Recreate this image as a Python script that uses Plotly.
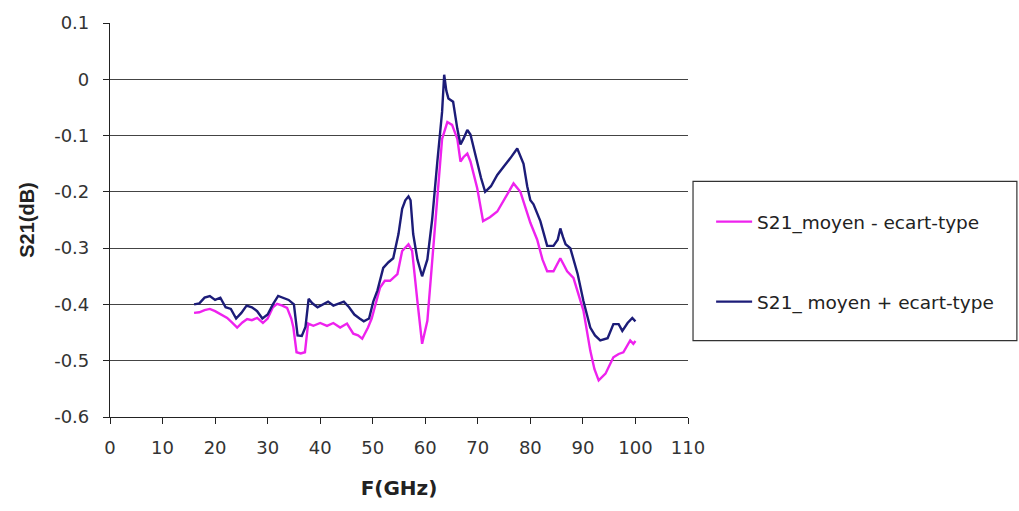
import plotly.graph_objects as go

# S21 transmission: mean minus / plus one standard deviation
freq_minus = [16, 17, 18, 19, 20, 21, 22.3, 23.2, 24.2, 25.2, 26.1, 27, 28, 29.1, 30, 31, 31.8, 32.8,
              33.7, 34.5, 34.9, 35.5, 36.3, 37.1, 37.7, 38.7, 40, 41.3, 42.5, 43.8, 45.1, 46.3, 47.2,
              48, 49.1, 49.8, 50.9, 51.4, 52.3, 53.3, 54.7, 55.6, 56.8, 57.5, 58.5, 59.4, 60.4, 61.3,
              62.3, 63.2, 64.2, 65.1, 66.1, 66.7, 67.3, 68, 68.6, 69.3, 69.9, 71, 72.3, 73.7, 75.6,
              76.8, 78.1, 79, 80, 81.3, 82.3, 83.2, 84.4, 85.7, 87, 88.2, 89.2, 90.1, 91.4, 92.2, 93,
              94.3, 95.8, 96.8, 97.7, 98.5, 99, 99.6, 100]
s21_minus = [-0.415, -0.414, -0.410, -0.408, -0.412, -0.417, -0.424, -0.432, -0.441, -0.432, -0.426,
             -0.428, -0.424, -0.433, -0.425, -0.405, -0.399, -0.402, -0.406, -0.425, -0.441, -0.485,
             -0.487, -0.485, -0.434, -0.438, -0.433, -0.438, -0.433, -0.441, -0.434, -0.452, -0.455,
             -0.461, -0.441, -0.425, -0.385, -0.370, -0.358, -0.358, -0.346, -0.305, -0.293, -0.305,
             -0.394, -0.470, -0.429, -0.323, -0.205, -0.106, -0.076, -0.081, -0.106, -0.146, -0.138,
             -0.132, -0.146, -0.170, -0.194, -0.252, -0.245, -0.235, -0.205, -0.185, -0.200, -0.228,
             -0.255, -0.285, -0.320, -0.341, -0.341, -0.318, -0.341, -0.353, -0.385, -0.411, -0.482,
             -0.515, -0.535, -0.523, -0.494, -0.488, -0.485, -0.472, -0.464, -0.470, -0.465]

freq_plus = [16, 17, 18, 19, 20, 21, 22, 23, 24, 25, 26, 27, 28, 29, 30, 31, 32, 33, 34, 35, 35.7,
             36.5, 37.2, 37.8, 38.5, 39.5, 40.5, 41.5, 42.5, 43.5, 44.5, 45.5, 46.5, 47.5, 48.3, 49.3,
             50.1, 50.9, 52, 53, 53.9, 54.9, 55.6, 56.2, 56.8, 57.2, 57.7, 58.5, 59.4, 60.4, 61.3,
             62.3, 63.2, 63.6, 64.0, 64.4, 65.3, 66.1, 66.7, 67.3, 68, 68.6, 69.3, 69.9, 70.6, 71.4,
             72.5, 73.7, 75, 76.2, 77.5, 78.7, 79.4, 80.0, 80.6, 81.9, 83.2, 84.4, 85.2, 85.7, 86.2,
             86.7, 87.6, 89, 90.1, 91.4, 92.3, 93.3, 94.7, 95.8, 96.8, 97.5, 98.5, 99.4, 100]
s21_plus = [-0.400, -0.398, -0.388, -0.385, -0.392, -0.388, -0.405, -0.408, -0.425, -0.415, -0.402,
            -0.405, -0.412, -0.425, -0.418, -0.400, -0.385, -0.388, -0.392, -0.400, -0.455, -0.456,
            -0.440, -0.390, -0.398, -0.405, -0.400, -0.395, -0.402, -0.398, -0.395, -0.405, -0.418,
            -0.425, -0.430, -0.425, -0.395, -0.375, -0.335, -0.325, -0.318, -0.275, -0.230, -0.215,
            -0.208, -0.215, -0.275, -0.320, -0.350, -0.320, -0.250, -0.146, -0.058, 0.008, -0.020,
            -0.034, -0.040, -0.088, -0.116, -0.105, -0.090, -0.098, -0.125, -0.146, -0.175, -0.200,
            -0.190, -0.170, -0.155, -0.140, -0.123, -0.150, -0.190, -0.215, -0.222, -0.252, -0.296,
            -0.296, -0.285, -0.265, -0.280, -0.293, -0.300, -0.346, -0.394, -0.441, -0.455, -0.464,
            -0.460, -0.435, -0.435, -0.447, -0.433, -0.424, -0.430]

x_ticks = list(range(0, 111, 10))
y_ticks = [0.1, 0, -0.1, -0.2, -0.3, -0.4, -0.5, -0.6]
y_labels = ["0.1", "0", "-0.1", "-0.2", "-0.3", "-0.4", "-0.5", "-0.6"]

WIDE = "DejaVu Sans, Verdana, sans-serif"
NARROW = "Liberation Sans, Arial, sans-serif"

fig = go.Figure()
fig.add_trace(go.Scatter(x=freq_minus, y=s21_minus, mode="lines", name="S21_moyen - ecart-type",
                         line=dict(color="#ee22ee", width=2.4), legendgroup="a"))
fig.add_trace(go.Scatter(x=freq_plus, y=s21_plus, mode="lines", name="S21_ moyen + ecart-type",
                         line=dict(color="#1c1c78", width=2.4), legendgroup="b"))

# Legend frame
fig.add_shape(type="rect", xref="paper", yref="paper", x0=1.0087, x1=1.569, y0=0.194, y1=0.598,
              line=dict(color="#333333", width=1.2), fillcolor="rgba(0,0,0,0)")

fig.update_layout(
    width=1019, height=511,
    margin=dict(l=110, r=331, t=21, b=94),
    paper_bgcolor="white", plot_bgcolor="white",
    font=dict(family=WIDE, size=18, color="#222222"),
    showlegend=True,
    legend=dict(x=1.04, y=0.543, xanchor="left", yanchor="top", bgcolor="rgba(0,0,0,0)",
                font=dict(family=WIDE, size=18.5, color="#222222"), tracegroupgap=53,
                itemwidth=36),
    xaxis=dict(range=[0, 110], tickvals=x_ticks, ticks="outside", ticklen=6, tickcolor="#222222",
               showline=True, linecolor="#222222", linewidth=1.2, showgrid=False, zeroline=False,
               ticklabelstandoff=8, tickfont=dict(family=WIDE, size=18, color="#333333"),
               title=dict(text="<b>F(GHz)</b>", font=dict(family=WIDE, size=20, color="#222222"),
                          standoff=24)),
    yaxis=dict(range=[-0.6, 0.1], tickvals=y_ticks, ticktext=y_labels, ticks="outside", ticklen=6,
               tickcolor="#222222", showline=True, linecolor="#222222", linewidth=1.2,
               showgrid=True, gridcolor="#444444", gridwidth=1.3, zeroline=False,
               ticklabelstandoff=10, tickfont=dict(family=WIDE, size=18, color="#333333"),
               title=dict(text="<b>S21(dB)</b>", font=dict(family=NARROW, size=20, color="#222222"),
                          standoff=14)),
)

fig.write_html("out.html")
